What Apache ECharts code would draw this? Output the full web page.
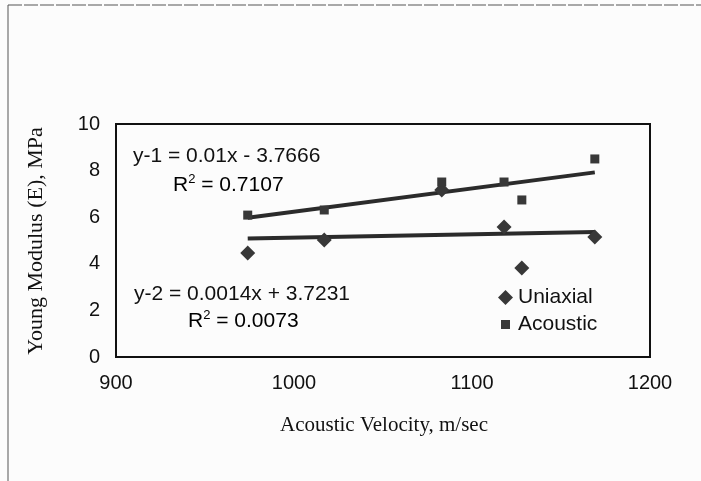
<!DOCTYPE html>
<html>
<head>
<meta charset="utf-8">
<script src="https://cdn.jsdelivr.net/npm/echarts@6/dist/echarts.min.js"></script>
<style>html,body{margin:0;padding:0;background:#fcfcfc}#c{width:701px;height:481px}</style>
</head>
<body>
<div id="c"></div>
<script>
// ---- data ----
const velocity = [974, 1017, 1083, 1118, 1128, 1169];
const uniaxial = [4.46, 5.02, 7.17, 5.58, 3.82, 5.15];
const acoustic = [6.09, 6.31, 7.51, 7.51, 6.74, 8.50];
const seriesNames = ['Uniaxial', 'Acoustic'];
// trend line coefficients from the printed equations: [acoustic (y-1), uniaxial (y-2)]
const trendSlope = [0.01, 0.0014];
const trendIntercept = [-3.7666, 3.7231];
const trendLabels = ['y-1 = 0.01x - 3.7666', 'y-2 = 0.0014x + 3.7231'];
const r2Labels = ['0.7107', '0.0073'];
const xTicks = [900, 1000, 1100, 1200];
const yTicks = [0, 2, 4, 6, 8, 10];
const xTitle = 'Acoustic Velocity, m/sec';
const yTitle = 'Young Modulus (E), MPa';

const xmin = Math.min(...velocity), xmax = Math.max(...velocity);
const trendLine = i => [[xmin, trendSlope[i]*xmin + trendIntercept[i]], [xmax, trendSlope[i]*xmax + trendIntercept[i]]];

const chart = echarts.init(document.getElementById('c'), null, {renderer: 'canvas'});
const markColor = '#383838';
const r2Rich = {
  a: {fontFamily: 'Liberation Sans, Arial', fontSize: 21, color: '#111', lineHeight: 24},
  s: {fontFamily: 'Liberation Sans, Arial', fontSize: 13, color: '#111', lineHeight: 24, verticalAlign: 'top', padding: [0,0,8,0]}
};
chart.setOption({
  backgroundColor: '#fcfcfc',
  animation: false,
  grid: {left: 116, top: 124, width: 534, height: 233, show: true, borderColor: '#111', borderWidth: 2, backgroundColor: 'transparent'},
  xAxis: {
    type: 'value', min: xTicks[0], max: xTicks[xTicks.length-1], interval: 100,
    axisLine: {show: false}, axisTick: {show: false}, splitLine: {show: false},
    axisLabel: {margin: 16, fontFamily: 'Liberation Sans, Arial', fontSize: 20, color: '#111', formatter: v => String(v)}
  },
  yAxis: {
    type: 'value', min: yTicks[0], max: yTicks[yTicks.length-1], interval: 2,
    axisLine: {show: false}, axisTick: {show: false}, splitLine: {show: false},
    axisLabel: {margin: 16, fontFamily: 'Liberation Sans, Arial', fontSize: 20, color: '#111', formatter: v => String(v)}
  },
  legend: {
    left: 498, top: 287, orient: 'vertical', padding: 0, itemGap: 6,
    itemWidth: 15, itemHeight: 15,
    textStyle: {fontFamily: 'Liberation Sans, Arial', fontSize: 21, color: '#111'},
    data: [
      {name: seriesNames[0], icon: 'diamond'},
      {name: seriesNames[1], icon: 'path://M0,0M15,15M3,3L12,3L12,12L3,12Z'}
    ]
  },
  series: [
    {name: seriesNames[0], type: 'scatter', symbol: 'diamond', symbolSize: 15,
     itemStyle: {color: markColor, opacity: 1}, z: 3,
     data: velocity.map((v, i) => [v, uniaxial[i]])},
    {name: seriesNames[1], type: 'scatter', symbol: 'rect', symbolSize: 9,
     itemStyle: {color: markColor, opacity: 1}, z: 3,
     data: velocity.map((v, i) => [v, acoustic[i]])},
    {name: 'trend1', type: 'line', data: trendLine(0), symbol: 'none', silent: true,
     lineStyle: {color: '#2b2b2b', width: 4}, z: 2},
    {name: 'trend2', type: 'line', data: trendLine(1), symbol: 'none', silent: true,
     lineStyle: {color: '#2b2b2b', width: 4}, z: 2}
  ],
  graphic: [
    {type: 'line', shape: {x1: 8, y1: 5, x2: 8, y2: 481}, style: {stroke: '#555', lineWidth: 1}},
    {type: 'line', shape: {x1: 8, y1: 5, x2: 701, y2: 5}, style: {stroke: '#555', lineWidth: 1, lineDash: [14, 2]}},
    {type: 'text', left: 133, top: 146, style: {text: trendLabels[0], font: '21px "Liberation Sans", Arial', fill: '#111'}},
    {type: 'text', left: 173, top: 173, style: {text: '{a|R}{s|2}{a| = ' + r2Labels[0] + '}', rich: r2Rich}},
    {type: 'text', left: 134, top: 284, style: {text: trendLabels[1], font: '21px "Liberation Sans", Arial', fill: '#111'}},
    {type: 'text', left: 188, top: 309, style: {text: '{a|R}{s|2}{a| = ' + r2Labels[1] + '}', rich: r2Rich}},
    {type: 'text', x: 384, y: 425, style: {text: xTitle, font: '21px "Liberation Serif", "Times New Roman", serif', fill: '#111', textAlign: 'center', textVerticalAlign: 'middle'}},
    {type: 'text', x: 36, y: 241, rotation: Math.PI/2, style: {text: yTitle, font: '22px "Liberation Serif", "Times New Roman", serif', fill: '#111', textAlign: 'center', textVerticalAlign: 'middle'}}
  ]
});
</script>
</body>
</html>
